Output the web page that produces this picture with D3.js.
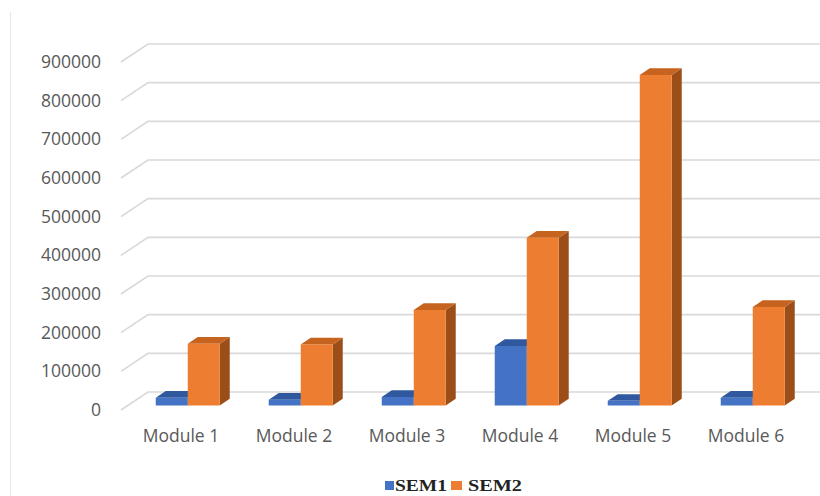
<!DOCTYPE html>
<html>
<head>
<meta charset="utf-8">
<script src="https://cdn.jsdelivr.net/npm/d3@7"></script>
<style>
  html, body { margin: 0; padding: 0; background: #fff; }
  svg { display: block; }
</style>
</head>
<body>
<svg id="chart" width="820" height="496"></svg>
<script>
// Chart data
const categories = ["Module 1", "Module 2", "Module 3", "Module 4", "Module 5", "Module 6"];
const seriesNames = ["SEM1", "SEM2"];
const sem1 = [20000, 15000, 22000, 154000, 12000, 20000];
const sem2 = [160000, 158000, 247000, 434000, 855000, 255000];
const yTicks = [0, 100000, 200000, 300000, 400000, 500000, 600000, 700000, 800000, 900000];

const palette = {
  SEM1: { front: "#4472C4", top: "#30589E", side: "#2A4C8A" },
  SEM2: { front: "#ED7D31", top: "#C6631E", side: "#9C4E19" }
};

const svg = d3.select("#chart");

// Oblique 3D projection: depth z in [0,1] shifts points right and up
const depthX = 27, depthY = 18;
const baseY = 410;           // value 0 on the front plane
const plotLeft = 121;        // front-left corner of the wall
const plotRightBack = 820;

const h = d3.scaleLinear().domain([0, 900000]).range([0, 348]);
const x = d3.scaleBand().domain(categories).range([124.5, 802.5]);
const xs = d3.scaleBand().domain(seriesNames).range([-32, 32]);

const px = (sx, z) => sx + z * depthX;
const py = (v, z) => baseY - z * depthY - h(v);

// Chart-area border on the left
svg.append("line")
  .attr("x1", 10.5).attr("x2", 10.5).attr("y1", 12).attr("y2", 496)
  .attr("stroke", "#e6e6e6").attr("stroke-width", 1);

// Gridlines: side wall diagonal + back wall horizontal
const grid = svg.append("g")
  .attr("fill", "none").attr("stroke", "#d9d9d9").attr("stroke-width", 1.6);
yTicks.forEach(t => {
  grid.append("path")
    .attr("d", d3.line()([
      [plotLeft, py(t, 0)],
      [plotLeft + depthX, py(t, 1)],
      [plotRightBack, py(t, 1)]
    ]));
});

// Value axis labels
const yAxisScale = d3.scaleLinear().domain([0, 900000]).range([baseY, baseY - 348]);
const yAxis = svg.append("g")
  .attr("transform", "translate(108,0)")
  .call(d3.axisLeft(yAxisScale).tickValues(yTicks).tickFormat(d3.format("d")).tickSize(0).tickPadding(7));
yAxis.select(".domain").remove();
yAxis.selectAll("text")
  .attr("font-family", "'Open Sans', sans-serif")
  .attr("font-size", 17.5)
  .attr("fill", "#595959");

// Category labels at the front edge
svg.append("g").selectAll("text")
  .data(categories)
  .join("text")
  .attr("x", d => x(d) + x.bandwidth() / 2)
  .attr("y", 442)
  .attr("text-anchor", "middle")
  .attr("font-family", "'Open Sans', sans-serif")
  .attr("font-size", 17.5)
  .attr("fill", "#595959")
  .text(d => d);

// 3D columns
const zFront = 0.25, zBack = 0.62;
const bars = [];
categories.forEach((c, i) => {
  [["SEM1", sem1[i]], ["SEM2", sem2[i]]].forEach(([s, v]) => bars.push({ c, s, v }));
});

const barG = svg.append("g");
bars.forEach(b => {
  const cx = x(b.c) + x.bandwidth() / 2;
  const x0 = cx + xs(b.s), x1 = x0 + xs.bandwidth();
  const col = palette[b.s];
  const g = barG.append("g");
  // side face
  g.append("path")
    .attr("d", d3.line()([
      [px(x1, zFront), py(0, zFront)],
      [px(x1, zFront), py(b.v, zFront)],
      [px(x1, zBack), py(b.v, zBack)],
      [px(x1, zBack), py(0, zBack)]
    ]) + "Z")
    .attr("fill", col.side);
  // top face
  g.append("path")
    .attr("d", d3.line()([
      [px(x0, zFront), py(b.v, zFront)],
      [px(x1, zFront), py(b.v, zFront)],
      [px(x1, zBack), py(b.v, zBack)],
      [px(x0, zBack), py(b.v, zBack)]
    ]) + "Z")
    .attr("fill", col.top);
  // front face
  g.append("rect")
    .attr("x", px(x0, zFront))
    .attr("y", py(b.v, zFront))
    .attr("width", x1 - x0)
    .attr("height", h(b.v))
    .attr("fill", col.front);
});

// Legend
const legend = svg.append("g").attr("font-family", "'Liberation Serif', 'Times New Roman', serif")
  .attr("font-weight", "bold").attr("font-size", 17).attr("fill", "#222");
legend.append("rect").attr("x", 385).attr("y", 481).attr("width", 9).attr("height", 9).attr("fill", palette.SEM1.front);
legend.append("text").attr("x", 395).attr("y", 491).attr("textLength", 52).attr("lengthAdjust", "spacingAndGlyphs").text(seriesNames[0]);
legend.append("rect").attr("x", 451).attr("y", 481).attr("width", 11).attr("height", 9).attr("fill", palette.SEM2.front);
legend.append("text").attr("x", 468).attr("y", 491).attr("textLength", 54).attr("lengthAdjust", "spacingAndGlyphs").text(seriesNames[1]);
</script>
</body>
</html>
